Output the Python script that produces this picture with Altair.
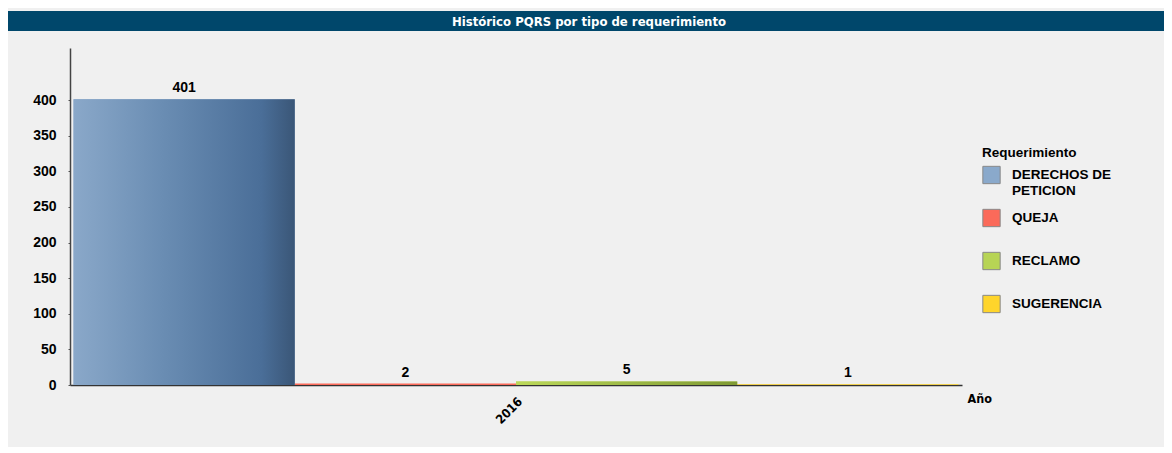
import altair as alt
import pandas as pd

categories = ["DERECHOS DE PETICION", "QUEJA", "RECLAMO", "SUGERENCIA"]
values = [401, 2, 5, 1]
years = ["2016", "2016", "2016", "2016"]
colors = ["#8aa9cb", "#fb6a5a", "#b7d455", "#ffd52b"]

df = pd.DataFrame({"Requerimiento": categories, "Valor": values, "Año": years})

FONT = "Liberation Sans"
NARROW = "DejaVu Sans Condensed"

x_enc = alt.X("Año:N", title="Año",
              scale=alt.Scale(paddingInner=0, paddingOuter=0.004),
              axis=alt.Axis(labelAngle=-45, labelFont=NARROW, labelFontWeight="bold",
                            labelFontSize=12.5, labelColor="#000", labelPadding=10,
                            domainColor="#333", domainWidth=1.5, ticks=False,
                            titleFont=NARROW, titleFontWeight="bold", titleFontSize=12.5,
                            titleColor="#000", titleAngle=0, titleAnchor="end",
                            titleAlign="left", titleBaseline="middle",
                            titleX=897, titleY=13))
xo_enc = alt.XOffset("Requerimiento:N", sort=categories,
                     scale=alt.Scale(domain=categories, paddingInner=0, paddingOuter=0))
y_enc = alt.Y("Valor:Q", title=None,
              scale=alt.Scale(domain=[0, 473], nice=False),
              axis=alt.Axis(values=[0, 50, 100, 150, 200, 250, 300, 350, 400],
                            grid=False, labelFont=FONT, labelFontWeight="bold",
                            labelFontSize=14, labelColor="#000", tickSize=2,
                            tickColor="#555", domainColor="#444", domainWidth=1.5,
                            labelPadding=12))

color_enc = alt.Color("Requerimiento:N", sort=categories,
                      scale=alt.Scale(domain=categories, range=colors),
                      legend=alt.Legend(title="Requerimiento", orient="none",
                                        legendX=912, legendY=98,
                                        symbolType="square", symbolSize=300,
                                        symbolStrokeColor="#888", symbolStrokeWidth=1,
                                        symbolOpacity=1, gridAlign="all",
                                        titleFont=FONT, titleFontWeight="bold",
                                        titleFontSize=13.5, titleColor="#000",
                                        titlePadding=6,
                                        labelFont=FONT, labelFontWeight="bold",
                                        labelFontSize=13.5, labelColor="#000",
                                        labelExpr="datum.label == 'DERECHOS DE PETICION' ? ['DERECHOS DE', 'PETICION'] : datum.label",
                                        rowPadding=9, labelOffset=11))

bars = alt.Chart(df).mark_bar(stroke=None).encode(
    x=x_enc, xOffset=xo_enc, y=y_enc, color=color_enc)

grad_blue = alt.Chart(df).transform_filter(
    alt.datum.Requerimiento == "DERECHOS DE PETICION"
).mark_bar(color=alt.LinearGradient(
    gradient="linear",
    stops=[alt.GradientStop(color="#8aa8c9", offset=0),
           alt.GradientStop(color="#6a8db3", offset=0.4),
           alt.GradientStop(color="#4a6e98", offset=0.85),
           alt.GradientStop(color="#3a5677", offset=1)],
    x1=0, x2=1, y1=0, y2=0)).encode(x=x_enc, xOffset=xo_enc, y=y_enc)

grad_green = alt.Chart(df).transform_filter(
    alt.datum.Requerimiento == "RECLAMO"
).mark_bar(color=alt.LinearGradient(
    gradient="linear",
    stops=[alt.GradientStop(color="#bcd95a", offset=0),
           alt.GradientStop(color="#7f9a33", offset=1)],
    x1=0, x2=1, y1=0, y2=0)).encode(x=x_enc, xOffset=xo_enc, y=y_enc)

labels = alt.Chart(df).mark_text(font=FONT, fontWeight="bold", fontSize=14,
                                 color="#000", dy=-11).encode(
    x=x_enc, xOffset=xo_enc, y=y_enc, text="Valor:Q")

title_bar = alt.Chart(df).mark_rect(color="#00476b").encode(
    x=alt.value(-63), x2=alt.value(1110), y=alt.value(-37), y2=alt.value(-17))

chart = alt.layer(title_bar, bars, grad_blue, grad_green, labels).properties(
    width=892, height=337,
    padding={"left": 62, "top": 40, "right": 202, "bottom": 62},
    autosize=alt.AutoSizeParams(type="none"),
    background="#f0f0f0",
    title=alt.Title("Histórico PQRS por tipo de requerimiento",
                    font=NARROW, fontSize=13, fontWeight="bold",
                    color="#ffffff", anchor="middle", frame="group", offset=0,
                    dx=73, dy=24, baseline="middle"),
).configure_view(stroke=None)

chart.save("out.html", embed_options={"renderer": "svg", "actions": False})
